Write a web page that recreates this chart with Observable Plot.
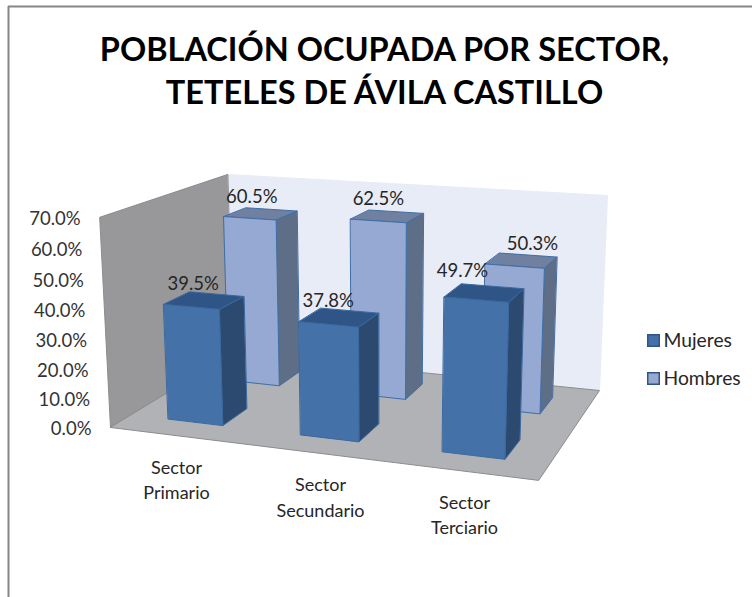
<!DOCTYPE html>
<html><head><meta charset="utf-8">
<script src="https://cdn.jsdelivr.net/npm/d3@7"></script>
<script src="https://cdn.jsdelivr.net/npm/@observablehq/plot@0.6"></script>
<style>html,body{margin:0;background:#fff}svg{display:block}</style>
</head><body><div id="chart"></div>
<script>
const categories = ["Sector\nPrimario", "Sector\nSecundario", "Sector\nTerciario"];
const mujeres = [39.5, 37.8, 49.7];
const hombres = [60.5, 62.5, 50.3];
const valueTicks = [0, 10, 20, 30, 40, 50, 60, 70];
const legendNames = ["Mujeres", "Hombres"];
const titleText = "POBLACIÓN OCUPADA POR SECTOR,\nTETELES DE ÁVILA CASTILLO";

const FONT = "Lato";
const MAXV = 70;
// Perspective camera: u across categories, v from back (0) to front (1), w value/MAXV
const O = [232, 353], Pu = [599, 390], Pv = [110, 427], Pw = [227, 174];
const a = -0.0855, b = -0.155, c = -0.0324;
function proj(u, v, w) {
  const W = 1 + a*u + b*v + c*w;
  const f = i => (O[i] + u*((1+a)*Pu[i]-O[i]) + v*((1+b)*Pv[i]-O[i]) + w*((1+c)*Pw[i]-O[i])) / W;
  return [f(0), f(1)];
}
const faces = [];
let fid = 0;
function face(corners, fill, stroke) {
  const id = fid++;
  for (const q of corners) { const [x,y] = proj(...q); faces.push({id, x, y, fill, stroke}); }
}
// Walls and floor
face([[0,0,0],[1,0,0],[1,0,1],[0,0,1]], "#E8ECF6", "#E8ECF6");
face([[0,0,0],[0,1,0],[0,1,1],[0,0,1]], "#98989A", "#8C8C8E");
face([[0,0,0],[1,0,0],[1,1,0],[0,1,0]], "#B0B2B6", "#8C8C8E");
const barHalf = 0.07, depthHalf = 0.1;
function bar(cat, v0, value, cols) {
  const u0 = (cat+0.5)/3 - barHalf, u1 = (cat+0.5)/3 + barHalf;
  const v1 = v0 + depthHalf, vb = v0 - depthHalf, w = value/MAXV;
  face([[u1,vb,0],[u1,v1,0],[u1,v1,w],[u1,vb,w]], cols.side, cols.stroke);
  face([[u0,vb,w],[u1,vb,w],[u1,v1,w],[u0,v1,w]], cols.top, cols.stroke);
  face([[u0,v1,0],[u1,v1,0],[u1,v1,w],[u0,v1,w]], cols.front, cols.stroke);
}
const colH = {front:"#95A9D2", top:"#6F80A0", side:"#5F6E87", stroke:"#3F6EA6"};
const colM = {front:"#4472A8", top:"#2F5587", side:"#2C4A70", stroke:"#3A689F"};
hombres.forEach((val,i)=>bar(i,0.25,val,colH));
mujeres.forEach((val,i)=>bar(i,0.75,val,colM));

// Data labels: above the centre of each bar top
const nudgeM = [[-11,-16],[-11,-16],[-22,-22]];
const nudgeH = [[-9,-17],[-9,-17],[11,-16]];
const dataLabels = [];
hombres.forEach((val,i)=>{const p=proj((i+.5)/3,.25,val/MAXV);dataLabels.push({x:p[0]+nudgeH[i][0],y:p[1]+nudgeH[i][1],t:val.toFixed(1)+"%"});});
mujeres.forEach((val,i)=>{const p=proj((i+.5)/3,.75,val/MAXV);dataLabels.push({x:p[0]+nudgeM[i][0],y:p[1]+nudgeM[i][1],t:val.toFixed(1)+"%"});});

const tickData = valueTicks.map(t=>{const p=proj(0,1,t/MAXV);return {x:p[0]-19,y:p[1]+2,t:t.toFixed(1)+"%"};});

const catX = d3.scalePoint(categories,[176,464]);
const catY = d3.scalePoint(categories,[478,513]);

const legendY = d3.scalePoint(legendNames,[340,378]);
const legendCols = {Mujeres:colM, Hombres:colH};

const plot = Plot.plot({
  width:752, height:597,
  marginTop:0, marginRight:0, marginBottom:0, marginLeft:0,
  x:{domain:[0,752], range:[0,752], axis:null},
  y:{domain:[0,597], range:[0,597], axis:null},
  marks:[
    Plot.ruleY([6],{x1:8,x2:752,stroke:"#868686",strokeWidth:2}),
    Plot.ruleX([8],{y1:6,y2:597,stroke:"#868686",strokeWidth:2}),
    Plot.line(faces,{x:"x",y:"y",z:"id",fill:d=>d.fill,stroke:d=>d.stroke,strokeWidth:1,curve:"linear-closed"}),
    Plot.text(dataLabels,{x:"x",y:"y",text:"t",fontFamily:FONT,fontSize:18.5,fill:"#262626"}),
    Plot.text(tickData,{x:"x",y:"y",text:"t",textAnchor:"end",fontFamily:FONT,fontSize:18.5,fill:"#333"}),
    Plot.text(categories,{x:d=>catX(d),y:d=>catY(d),text:d=>d,fontFamily:FONT,fontSize:18,lineHeight:1.42,fill:"#262626"}),
    Plot.text(legendNames,{x:663,y:d=>legendY(d),text:d=>d,textAnchor:"start",fontFamily:FONT,fontSize:19.3,fill:"#262626"}),
    Plot.dot(legendNames,{x:653,y:d=>legendY(d),symbol:"square",r:6.5,fill:d=>legendCols[d].front,stroke:"#2F5587",strokeWidth:1.5}),
    Plot.text([titleText],{x:384,y:68,text:d=>d,fontFamily:FONT,fontWeight:"bold",fontSize:32.5,lineHeight:1.32,fill:"#000"})
  ]
});
document.getElementById("chart").appendChild(plot);
</script></body></html>
